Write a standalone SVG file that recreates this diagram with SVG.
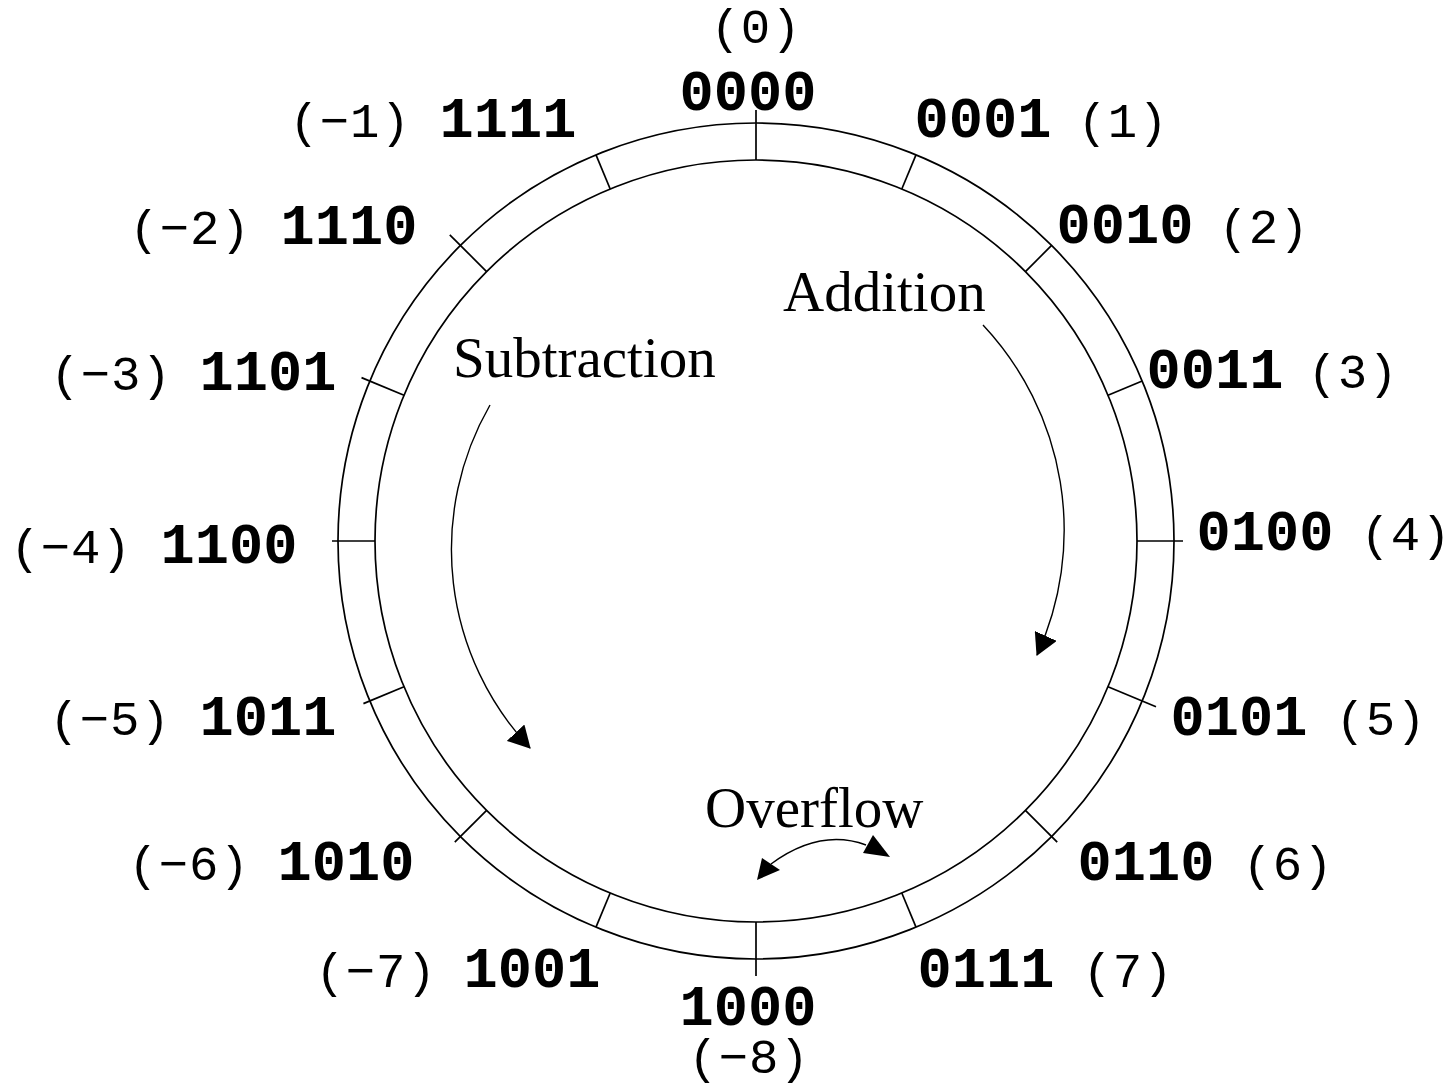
<svg xmlns="http://www.w3.org/2000/svg" width="1450" height="1088" viewBox="0 0 1450 1088">
<style>
.bit{font-family:"Liberation Mono","DejaVu Sans Mono",monospace;font-weight:bold;font-size:57px;fill:#000;text-anchor:middle}
.val{font-family:"Liberation Mono","DejaVu Sans Mono",monospace;font-size:49px;letter-spacing:1px;fill:#000;text-anchor:middle}
.lab{font-family:"Liberation Serif","Times New Roman",serif;font-size:57px;fill:#000}
.ring{fill:none;stroke:#000;stroke-width:1.7}
.tick{stroke:#000;stroke-width:1.7}
.arc{fill:none;stroke:#000;stroke-width:1.4}
</style>
<defs>
<marker id="ah" markerUnits="userSpaceOnUse" viewBox="0 0 22 24" refX="21" refY="12" markerWidth="22" markerHeight="24" orient="auto">
<path d="M0,0 L22,12 L0,24 z" fill="#000"/>
</marker>
</defs>
<rect width="1450" height="1088" fill="#fff"/>
<g id="wheel">
<circle class="ring" cx="756" cy="541" r="418"/>
<circle class="ring" cx="756" cy="541" r="381"/>
<line class="tick" x1="756" y1="160" x2="756" y2="110"/>
<line class="tick" x1="901.8" y1="189" x2="916" y2="154.8"/>
<line class="tick" x1="1025.4" y1="271.6" x2="1051.6" y2="245.4"/>
<line class="tick" x1="1108" y1="395.2" x2="1142.2" y2="381"/>
<line class="tick" x1="1137" y1="541" x2="1183" y2="541"/>
<line class="tick" x1="1108" y1="686.8" x2="1156" y2="706.7"/>
<line class="tick" x1="1025.4" y1="810.4" x2="1057.2" y2="842.2"/>
<line class="tick" x1="901.8" y1="893" x2="916" y2="927.2"/>
<line class="tick" x1="756" y1="922" x2="756" y2="976"/>
<line class="tick" x1="610.2" y1="893" x2="596" y2="927.2"/>
<line class="tick" x1="486.6" y1="810.4" x2="454.8" y2="842.2"/>
<line class="tick" x1="404" y1="686.8" x2="363.4" y2="703.6"/>
<line class="tick" x1="375" y1="541" x2="332" y2="541"/>
<line class="tick" x1="404" y1="395.2" x2="361.5" y2="377.6"/>
<line class="tick" x1="486.6" y1="271.6" x2="449.8" y2="234.8"/>
<line class="tick" x1="610.2" y1="189" x2="596" y2="154.8"/>
</g>
<g id="n0000"><text class="val" x="756" y="43">(0)</text><text class="bit" x="748" y="110">0000</text></g>
<g id="n0001"><text class="bit" x="983" y="137">0001</text><text class="val" x="1123" y="137">(1)</text></g>
<g id="n0010"><text class="bit" x="1125" y="243">0010</text><text class="val" x="1264" y="243">(2)</text></g>
<g id="n0011"><text class="bit" x="1215" y="388">0011</text><text class="val" x="1353" y="388">(3)</text></g>
<g id="n0100"><text class="bit" x="1265" y="550">0100</text><text class="val" x="1406" y="550">(4)</text></g>
<g id="n0101"><text class="bit" x="1239" y="735">0101</text><text class="val" x="1381" y="735">(5)</text></g>
<g id="n0110"><text class="bit" x="1146" y="880">0110</text><text class="val" x="1288" y="880">(6)</text></g>
<g id="n0111"><text class="bit" x="986" y="987">0111</text><text class="val" x="1128" y="987">(7)</text></g>
<g id="n1000"><text class="bit" x="748" y="1025">1000</text><text class="val" x="749" y="1073">(−8)</text></g>
<g id="n1001"><text class="val" x="376" y="987">(−7)</text><text class="bit" x="532" y="987">1001</text></g>
<g id="n1010"><text class="val" x="189" y="880">(−6)</text><text class="bit" x="346" y="880">1010</text></g>
<g id="n1011"><text class="val" x="110" y="735">(−5)</text><text class="bit" x="268" y="735">1011</text></g>
<g id="n1100"><text class="val" x="71" y="563">(−4)</text><text class="bit" x="229" y="563">1100</text></g>
<g id="n1101"><text class="val" x="111" y="390">(−3)</text><text class="bit" x="268" y="390">1101</text></g>
<g id="n1110"><text class="val" x="190" y="244">(−2)</text><text class="bit" x="349" y="244">1110</text></g>
<g id="n1111"><text class="val" x="350" y="137">(−1)</text><text class="bit" x="508" y="137">1111</text></g>
<g id="addition"><text class="lab" x="783" y="311">Addition</text></g>
<g id="subtraction"><text class="lab" x="453" y="377">Subtraction</text></g>
<g id="overflow"><text class="lab" x="705" y="827">Overflow</text></g>
<g id="connectors">
<path class="arc" d="M983,325 A300,300 0 0 1 1037,655" marker-end="url(#ah)"/>
<path class="arc" d="M490,405 A290,290 0 0 0 530,748" marker-end="url(#ah)"/>
<path class="arc" d="M771,864 Q820,828 866,845"/>
<polygon points="757,880 762,858 780,870" fill="#000"/>
<polygon points="873,835 863,853 890,857" fill="#000"/>
</g>
</svg>
